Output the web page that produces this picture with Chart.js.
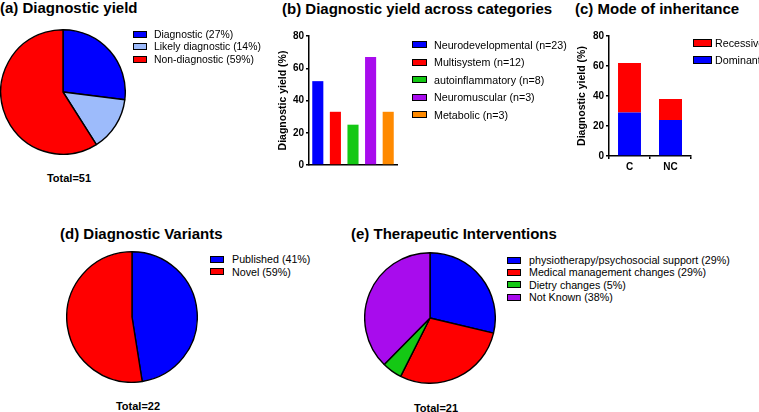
<!DOCTYPE html>
<html>
<head>
<meta charset="utf-8">
<script src="https://cdn.jsdelivr.net/npm/chart.js@4.4.1/dist/chart.umd.min.js"></script>
<style>
  body { margin: 0; width: 759px; height: 412px; background: #fff; position: relative; overflow: hidden;
         font-family: "Liberation Sans", Arial, sans-serif; color: #000; }
  .panel { position: absolute; }
  .title { position: absolute; font-weight: bold; font-size: 15px; line-height: 18px; white-space: nowrap; }
  .total { position: absolute; font-weight: bold; font-size: 11px; line-height: 13px; white-space: nowrap; transform: translateX(-50%); }
  .legend { position: absolute; font-size: 10.7px; white-space: nowrap; }
  .legend .row { display: flex; align-items: center; }
  .legend .sw { display: inline-block; border: 1px solid #000; box-sizing: border-box; }
</style>
</head>
<body>
<div class="title" style="left:0;top:-1px">(a) Diagnostic yield</div>
<div class="title" style="left:282px;top:0">(b) Diagnostic yield across categories</div>
<div class="title" style="left:575px;top:0">(c) Mode of inheritance</div>
<div class="title" style="left:60px;top:225px">(d) Diagnostic Variants</div>
<div class="title" style="left:351px;top:225px">(e) Therapeutic Interventions</div>

<canvas id="pieYield" class="panel" width="126" height="126" style="left:0;top:29px"></canvas>
<canvas id="barCategories" class="panel" width="140" height="150" style="left:260px;top:26px"></canvas>
<canvas id="barInheritance" class="panel" width="135" height="150" style="left:560px;top:26px"></canvas>
<canvas id="pieVariants" class="panel" width="132" height="132" style="left:66px;top:251px"></canvas>
<canvas id="pieTherapy" class="panel" width="132" height="132" style="left:364px;top:252px"></canvas>

<div class="total" style="left:69px;top:172px">Total=51</div>
<div class="total" style="left:138px;top:400px">Total=22</div>
<div class="total" style="left:436px;top:402px">Total=21</div>

<div id="legYield" class="legend" style="font-size:10.4px"></div>
<div id="legCategories" class="legend"></div>
<div id="legInheritance" class="legend"></div>
<div id="legVariants" class="legend"></div>
<div id="legTherapy" class="legend"></div>

<script>
// (a) diagnostic yield
const yieldLabels = ['Diagnostic (27%)', 'Likely diagnostic (14%)', 'Non-diagnostic (59%)'];
const yieldValues = [27, 14, 59];
const yieldColors = ['#0000ff', '#9dbbfb', '#ff0000'];

// (b) yield across categories
const categoryLabels = ['Neurodevelopmental (n=23)', 'Multisystem (n=12)', 'autoinflammatory (n=8)', 'Neuromuscular (n=3)', 'Metabolic (n=3)'];
const categoryYield = [52, 33, 25, 67, 33];
const categoryColors = ['#0000ff', '#ff0000', '#14c814', '#a80ced', '#ff8a00'];

// (c) mode of inheritance
const inheritanceGroups = ['C', 'NC'];
const dominantYield = [29, 24];
const recessiveYield = [33, 14];

// (d) diagnostic variants (slice sizes as drawn)
const variantLabels = ['Published (41%)', 'Novel (59%)'];
const variantValues = [47.5, 52.5];
const variantColors = ['#0000ff', '#ff0000'];

// (e) therapeutic interventions
const therapyLabels = ['physiotherapy/psychosocial support (29%)', 'Medical management changes (29%)', 'Dietry changes (5%)', 'Not Known (38%)'];
const therapyValues = [29, 29, 5, 38];
const therapyColors = ['#0000ff', '#ff0000', '#14c814', '#a80ced'];

const yTicks = { min: 0, max: 80, step: 20 };

Chart.defaults.font.family = "'Liberation Sans', Arial, sans-serif";
Chart.defaults.color = '#000';
Chart.defaults.animation = false;

function pie(id, values, colors) {
  new Chart(document.getElementById(id), {
    type: 'pie',
    data: { datasets: [{ data: values, backgroundColor: colors, borderColor: '#000', borderWidth: 1.4 }] },
    options: {
      responsive: false,
      layout: { padding: 0 },
      plugins: { legend: { display: false }, tooltip: { enabled: false } }
    }
  });
}

function yScale(titlePad) {
  return {
    min: yTicks.min, max: yTicks.max, stacked: true,
    afterFit(s) { s.width = 49; },
    ticks: { stepSize: yTicks.step, color: '#000', font: { weight: 'bold', size: 10 }, padding: 2 },
    grid: { drawOnChartArea: false, color: '#000', lineWidth: 1.5, tickLength: 3 },
    border: { color: '#000', width: 1.5 },
    title: { display: true, text: 'Diagnostic yield (%)', color: '#000',
             font: { weight: 'bold', size: 10.5 }, padding: { top: titlePad, bottom: 0 } }
  };
}

// legend built from the same arrays
function legend(id, labels, colors, o) {
  const el = document.getElementById(id);
  el.style.left = o.left + 'px';
  el.style.top = o.top + 'px';
  labels.forEach((lab, i) => {
    const row = document.createElement('div');
    row.className = 'row';
    row.style.height = o.rowH + 'px';
    const sw = document.createElement('span');
    sw.className = 'sw';
    sw.style.width = o.boxW + 'px';
    sw.style.height = o.boxH + 'px';
    sw.style.background = colors[i];
    sw.style.marginRight = o.gap + 'px';
    row.appendChild(sw);
    row.appendChild(document.createTextNode(lab));
    el.appendChild(row);
  });
}

pie('pieYield', yieldValues, yieldColors);
pie('pieVariants', variantValues, variantColors);
pie('pieTherapy', therapyValues, therapyColors);

new Chart(document.getElementById('barCategories'), {
  type: 'bar',
  data: {
    labels: categoryLabels,
    datasets: [{ data: categoryYield, backgroundColor: categoryColors, barPercentage: 0.63, categoryPercentage: 1 }]
  },
  options: {
    responsive: false,
    layout: { padding: { top: 10, right: 3, left: 0, bottom: 0 } },
    plugins: { legend: { display: false }, tooltip: { enabled: false } },
    scales: {
      x: {
        afterFit(s) { s.height = 11; },
        ticks: { display: false },
        grid: { drawOnChartArea: false, drawTicks: false },
        border: { color: '#000', width: 1.5 }
      },
      y: yScale(17)
    }
  }
});

new Chart(document.getElementById('barInheritance'), {
  type: 'bar',
  data: {
    labels: inheritanceGroups,
    datasets: [
      { label: 'Dominant', data: dominantYield, backgroundColor: '#0000ff', barPercentage: 0.56, categoryPercentage: 1 },
      { label: 'Recessive', data: recessiveYield, backgroundColor: '#ff0000', barPercentage: 0.56, categoryPercentage: 1 }
    ]
  },
  options: {
    responsive: false,
    layout: { padding: { top: 10, right: 4, left: 0, bottom: 0 } },
    plugins: { legend: { display: false }, tooltip: { enabled: false } },
    scales: {
      x: {
        stacked: true,
        afterFit(s) { s.height = 20; },
        ticks: { color: '#000', font: { weight: 'bold', size: 10 }, padding: 2 },
        grid: { drawOnChartArea: false, color: '#000', lineWidth: 1.5, tickLength: 3 },
        border: { color: '#000', width: 1.5 }
      },
      y: yScale(16)
    }
  }
});

legend('legYield', yieldLabels, yieldColors, { left: 133, top: 28, rowH: 12.5, boxW: 14, boxH: 7, gap: 7 });
legend('legCategories', categoryLabels, categoryColors, { left: 412, top: 36, rowH: 17.5, boxW: 15, boxH: 7, gap: 7 });
legend('legInheritance', ['Recessive', 'Dominant'], ['#ff0000', '#0000ff'], { left: 693, top: 34, rowH: 17.5, boxW: 19, boxH: 8, gap: 3 });
legend('legVariants', variantLabels, variantColors, { left: 210, top: 253, rowH: 12.5, boxW: 14, boxH: 7, gap: 8 });
legend('legTherapy', therapyLabels, therapyColors, { left: 507, top: 254, rowH: 12.3, boxW: 14, boxH: 7, gap: 8 });
</script>
</body>
</html>
